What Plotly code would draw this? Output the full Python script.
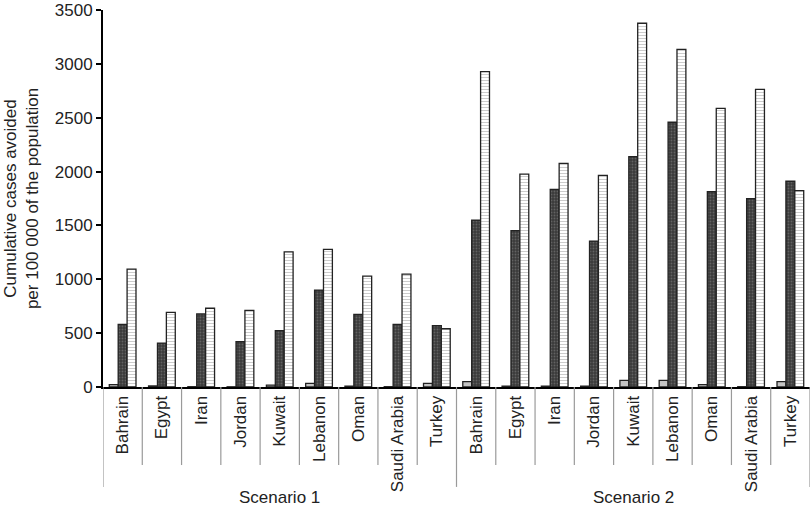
import plotly.graph_objects as go

countries = ["Bahrain", "Egypt", "Iran", "Jordan", "Kuwait", "Lebanon", "Oman", "Saudi Arabia", "Turkey"]
scenarios = ["Scenario 1", "Scenario 2"]

s1_light = [22, 10, 3, 2, 18, 34, 8, 3, 34]
s1_dark = [582, 408, 678, 421, 523, 900, 674, 582, 569]
s1_striped = [1095, 693, 731, 712, 1255, 1277, 1030, 1048, 541]

s2_light = [49, 8, 8, 8, 62, 62, 22, 3, 49]
s2_dark = [1550, 1451, 1835, 1355, 2138, 2458, 1813, 1748, 1910]
s2_striped = [2928, 1977, 2077, 1965, 3377, 3135, 2587, 2764, 1823]

labels = countries + countries
xpos = list(range(len(labels)))
light = s1_light + s2_light
dark = s1_dark + s2_dark
striped = s1_striped + s2_striped

FONT = "Liberation Sans, Arial, sans-serif"
FS = 17

fig = go.Figure()
fig.add_trace(go.Bar(
    x=xpos, y=light, name="Series 1",
    marker=dict(color="#c4c4c4", line=dict(color="#222", width=1.3)),
))
fig.add_trace(go.Bar(
    x=xpos, y=dark, name="Series 2",
    marker=dict(color="#3a3a3a", line=dict(color="#222", width=1.3),
                pattern=dict(shape=".", size=3, solidity=0.3,
                             fgcolor="#8a8a8a", bgcolor="#3a3a3a")),
))
fig.add_trace(go.Bar(
    x=xpos, y=striped, name="Series 3",
    marker=dict(color="white", line=dict(color="#222", width=1.3),
                pattern=dict(shape="-", size=3, solidity=0.35,
                             fgcolor="#9a9a9a", bgcolor="white")),
))

n = len(labels)
shapes = []
for i in range(n + 1):
    b = i - 0.5
    long = (i % len(countries) == 0)
    shapes.append(dict(
        type="line", xref="x", yref="paper", x0=b, x1=b,
        y0=0, y1=-0.265 if long else -0.207,
        line=dict(color="#9a9a9a", width=1.2),
    ))

annotations = []
for k, sc in enumerate(scenarios):
    c = k * len(countries) + (len(countries) - 1) / 2
    annotations.append(dict(
        text=sc, x=c, xref="x", y=-0.292, yref="paper",
        showarrow=False, yanchor="middle",
        font=dict(size=FS, color="#222", family=FONT),
    ))

fig.update_layout(
    width=812, height=512,
    margin=dict(l=103, r=2, t=10, b=125),
    plot_bgcolor="white", paper_bgcolor="white",
    barmode="group", bargap=0.32, bargroupgap=0,
    showlegend=False,
    font=dict(family=FONT, size=FS, color="#222"),
    shapes=shapes, annotations=annotations,
    xaxis=dict(
        tickmode="array", tickvals=xpos, ticktext=labels,
        tickangle=-90, range=[-0.5, n - 0.5],
        showline=True, linecolor="black", linewidth=2,
        ticks="", showgrid=False, zeroline=False,
        tickfont=dict(size=FS, color="#222", family=FONT),
    ),
    yaxis=dict(
        range=[0, 3500], dtick=500, tick0=0,
        showline=True, linecolor="black", linewidth=2,
        ticks="outside", ticklen=5, tickwidth=1.5, tickcolor="black",
        showgrid=False, zeroline=False,
        tickfont=dict(size=FS, color="#222", family=FONT),
        title=dict(text="Cumulative cases avoided<br>per 100 000 of the population",
                   font=dict(size=FS, color="#222", family=FONT), standoff=12),
    ),
)

fig.write_html("out.html", config={"displayModeBar": False},
               post_script="document.body.style.margin='0';")
